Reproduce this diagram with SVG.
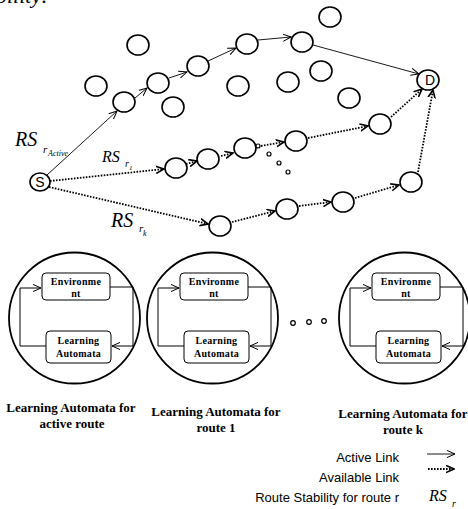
<svg xmlns="http://www.w3.org/2000/svg" width="468" height="509" viewBox="0 0 468 509">
<style>
.n{fill:#fff;stroke:#000;stroke-width:1.6}
.a{fill:none;stroke:#000;stroke-width:0.9}
.d{fill:none;stroke:#000;stroke-width:1.8;stroke-dasharray:1.6 1.4}
.big{fill:none;stroke:#000;stroke-width:1.8}
.box{fill:#fff;stroke:#000;stroke-width:1}
.loop{fill:none;stroke:#000;stroke-width:1}
.bt{font-family:"Liberation Serif",serif;font-weight:bold;font-size:10px;letter-spacing:0.3px;text-anchor:middle}
.cap{font-family:"Liberation Serif",serif;font-weight:bold;font-size:13px;text-anchor:middle}
.rs{font-family:"Liberation Serif",serif;font-style:italic}
.lg{font-family:"Liberation Sans",sans-serif;font-size:13px;text-anchor:end}
.nl{font-family:"Liberation Sans",sans-serif;font-size:14px;text-anchor:middle}
.dot{fill:#fff;stroke:#000;stroke-width:1.2}
</style>
<defs>
<marker id="ah" viewBox="0 0 10 10" refX="9" refY="5" markerWidth="9" markerHeight="9" markerUnits="userSpaceOnUse" orient="auto">
<path d="M0,1 L9,5 L0,9" fill="none" stroke="#000" stroke-width="1.1"/>
</marker>
<marker id="dh" viewBox="0 0 10 10" refX="9" refY="5" markerWidth="9" markerHeight="9" markerUnits="userSpaceOnUse" orient="auto">
<path d="M0,1 L9,5 L0,9" fill="none" stroke="#000" stroke-width="1.8"/>
</marker>
</defs>
<text class="rs" x="-4" y="3" font-size="22">bility:</text>
<g id="connectors">
<line class="a" x1="47" y1="175" x2="117" y2="111" marker-end="url(#ah)"/>
<line class="a" x1="135" y1="98" x2="147" y2="88" marker-end="url(#ah)"/>
<line class="a" x1="169" y1="78" x2="187" y2="72" marker-end="url(#ah)"/>
<line class="a" x1="208" y1="61" x2="236" y2="48" marker-end="url(#ah)"/>
<line class="a" x1="258" y1="40" x2="291" y2="37" marker-end="url(#ah)"/>
<line class="a" x1="313" y1="45" x2="419" y2="74" marker-end="url(#ah)"/>
<line class="d" x1="50" y1="181" x2="164" y2="169" marker-end="url(#dh)"/>
<line class="d" x1="186" y1="164" x2="197" y2="161" marker-end="url(#dh)"/>
<line class="d" x1="221" y1="156" x2="233" y2="153" marker-end="url(#dh)"/>
<line class="d" x1="261" y1="146" x2="284" y2="142" marker-end="url(#dh)"/>
<line class="d" x1="308" y1="138" x2="368" y2="126" marker-end="url(#dh)"/>
<line class="d" x1="391" y1="117" x2="422" y2="89" marker-end="url(#dh)"/>
<line class="d" x1="49" y1="187" x2="208" y2="224" marker-end="url(#dh)"/>
<line class="d" x1="232" y1="222" x2="275" y2="211" marker-end="url(#dh)"/>
<line class="d" x1="299" y1="206" x2="331" y2="202" marker-end="url(#dh)"/>
<line class="d" x1="355" y1="198" x2="399" y2="185" marker-end="url(#dh)"/>
<line class="d" x1="418" y1="172" x2="433" y2="90" marker-end="url(#dh)"/>
</g>
<g id="nodes">
<ellipse class="n" cx="330" cy="17" rx="11" ry="10"/>
<ellipse class="n" cx="138" cy="45" rx="11" ry="10"/>
<ellipse class="n" cx="247" cy="44" rx="11" ry="10"/>
<ellipse class="n" cx="302" cy="42" rx="11" ry="10"/>
<ellipse class="n" cx="96" cy="86" rx="11" ry="10"/>
<ellipse class="n" cx="124" cy="102" rx="11" ry="10"/>
<ellipse class="n" cx="158" cy="83" rx="11" ry="10"/>
<ellipse class="n" cx="198" cy="66" rx="11" ry="10"/>
<ellipse class="n" cx="238" cy="86" rx="11" ry="10"/>
<ellipse class="n" cx="288" cy="82" rx="11" ry="10"/>
<ellipse class="n" cx="321" cy="71" rx="11" ry="10"/>
<ellipse class="n" cx="349" cy="98" rx="11" ry="10"/>
<ellipse class="n" cx="173" cy="107" rx="11" ry="10"/>
<ellipse class="n" cx="176" cy="168" rx="11" ry="10"/>
<ellipse class="n" cx="208" cy="159" rx="11" ry="10"/>
<ellipse class="n" cx="245" cy="148" rx="11" ry="10"/>
<ellipse class="n" cx="296" cy="141" rx="11" ry="10"/>
<ellipse class="n" cx="380" cy="124" rx="11" ry="10"/>
<ellipse class="n" cx="220" cy="226" rx="11" ry="10"/>
<ellipse class="n" cx="287" cy="209" rx="11" ry="10"/>
<ellipse class="n" cx="343" cy="202" rx="11" ry="10"/>
<ellipse class="n" cx="411" cy="182" rx="11" ry="10"/>
<circle class="dot" cx="258" cy="146" r="2"/>
<circle class="dot" cx="269" cy="154" r="2"/>
<circle class="dot" cx="279" cy="163" r="2"/>
<circle class="dot" cx="288" cy="172" r="2"/>
</g>
<g id="node-S">
<ellipse class="n" cx="40" cy="182" rx="10" ry="9"/>
<text class="nl" x="40" y="187">S</text>
</g>
<g id="node-D">
<ellipse class="n" cx="428" cy="80" rx="11" ry="10"/>
<text class="nl" x="430" y="85">D</text>
</g>
<g id="labels">
<text class="rs" x="15" y="146" font-size="20">RS</text>
<text class="rs" x="43" y="153" font-size="11">r</text>
<text class="rs" x="48" y="156" font-size="8">Active</text>
<text class="rs" x="102" y="162" font-size="16">RS</text>
<text class="rs" x="125" y="167" font-size="10">r</text>
<text class="rs" x="129" y="170" font-size="7">1</text>
<text class="rs" x="111" y="227" font-size="20">RS</text>
<text class="rs" x="139" y="232" font-size="11">r</text>
<text class="rs" x="143" y="236" font-size="8">k</text>
</g>
<g id="la-active">
<circle class="big" cx="74.5" cy="318" r="65.5"/>
<path class="loop" d="M110,287 H133 V346 H112" marker-end="url(#ah)"/>
<path class="loop" d="M46,346 H20 V288 H41" marker-end="url(#ah)"/>
<rect class="box" x="42" y="273" width="68" height="27" rx="4"/>
<text class="bt" x="76" y="285">Environme</text>
<text class="bt" x="76" y="297">nt</text>
<rect class="box" x="46" y="331" width="65" height="32" rx="4"/>
<text class="bt" x="78.5" y="344">Learning</text>
<text class="bt" x="78.5" y="357">Automata</text>
</g>
<g id="la-route1" transform="translate(138,0)">
<circle class="big" cx="74.5" cy="318" r="65.5"/>
<path class="loop" d="M110,287 H133 V346 H112" marker-end="url(#ah)"/>
<path class="loop" d="M46,346 H20 V288 H41" marker-end="url(#ah)"/>
<rect class="box" x="42" y="273" width="68" height="27" rx="4"/>
<text class="bt" x="76" y="285">Environme</text>
<text class="bt" x="76" y="297">nt</text>
<rect class="box" x="46" y="331" width="65" height="32" rx="4"/>
<text class="bt" x="78.5" y="344">Learning</text>
<text class="bt" x="78.5" y="357">Automata</text>
</g>
<g id="la-routek" transform="translate(330,0)">
<circle class="big" cx="74.5" cy="318" r="65.5"/>
<path class="loop" d="M110,287 H133 V346 H112" marker-end="url(#ah)"/>
<path class="loop" d="M46,346 H20 V288 H41" marker-end="url(#ah)"/>
<rect class="box" x="42" y="273" width="68" height="27" rx="4"/>
<text class="bt" x="76" y="285">Environme</text>
<text class="bt" x="76" y="297">nt</text>
<rect class="box" x="46" y="331" width="65" height="32" rx="4"/>
<text class="bt" x="78.5" y="344">Learning</text>
<text class="bt" x="78.5" y="357">Automata</text>
</g>
<g id="ellipsis">
<circle class="dot" cx="293" cy="323" r="2.3"/>
<circle class="dot" cx="309" cy="322" r="2.3"/>
<circle class="dot" cx="324" cy="321" r="2.3"/>
</g>
<g id="captions">
<text class="cap" x="71" y="412">Learning Automata for</text>
<text class="cap" x="72" y="428">active route</text>
<text class="cap" x="216" y="416">Learning Automata for</text>
<text class="cap" x="216" y="432">route 1</text>
<text class="cap" x="403" y="418">Learning Automata for</text>
<text class="cap" x="403" y="434">route k</text>
</g>
<g id="legend">
<text class="lg" x="399" y="462">Active Link</text>
<line class="a" x1="427" y1="454" x2="455" y2="454" marker-end="url(#ah)"/>
<text class="lg" x="399" y="482">Available Link</text>
<line class="d" x1="428" y1="469" x2="454" y2="469" marker-end="url(#dh)"/>
<text class="lg" x="399" y="502">Route Stability for route r</text>
<text class="rs" x="429" y="501" font-size="16">RS</text>
<text class="rs" x="452" y="507" font-size="10">r</text>
</g>
</svg>
